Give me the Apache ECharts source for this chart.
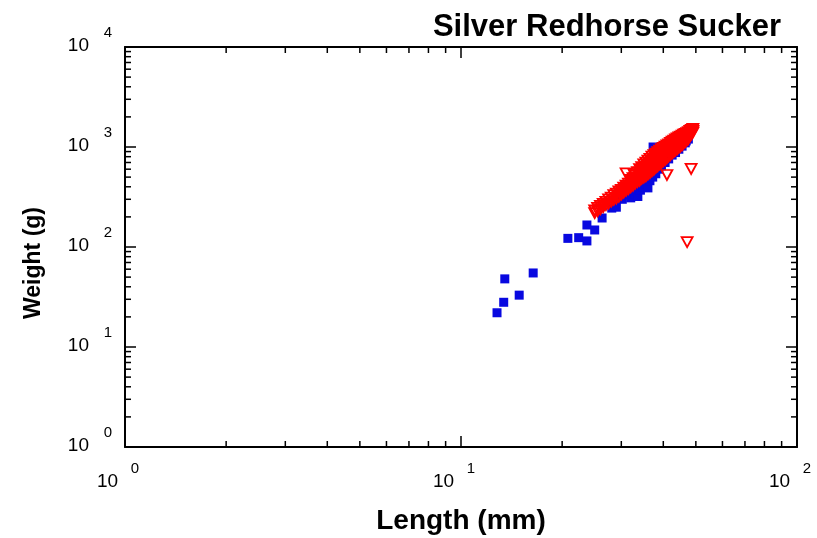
<!DOCTYPE html>
<html><head><meta charset="utf-8">
<script src="https://cdn.jsdelivr.net/npm/echarts@6/dist/echarts.min.js"></script>
<style>html,body{margin:0;padding:0;background:#fff}#c{width:817px;height:538px}</style>
</head><body><div id="c"></div>
<script>
const chartTitle = 'Silver Redhorse Sucker';
const xName = 'Length (mm)';
const yName = 'Weight (g)';
// [length (mm), weight (g)]
const blueData = [
  [12.8,22],[13.4,28],[13.5,48],[14.9,33],[16.4,55],[20.8,122],[22.4,124],[23.7,115],
  [23.7,166],[25.0,148],[26.3,195],[28.1,245],[28.8,280],[29.0,250],
  [29.5,320],[30.2,300],[30.8,350],[31.5,330],[32.0,310],[32.5,360],[33.0,340],[33.6,320],
  [34.2,370],[34.8,400],[35.5,430],[36.0,390],[36.5,460],[37.2,500],[38.0,540],[38.8,600],
  [39.5,650],[40.5,700],[41.5,760],[42.5,830],[43.5,880],[44.5,950],[45.5,1020],[46.5,1100],
  [47.5,1200],[37.3,1000],[46.8,1150]
];
const redData = [
  [25.0,218],[25.0,232],[25.5,228],[25.5,246],[26.0,238],[26.0,258],[26.5,250],[26.5,270],
  [27.0,262],[27.0,282],[27.5,272],[27.5,300],[28.0,285],[28.0,312],[28.5,296],[28.5,330],
  [29.0,305],[29.0,342],[29.5,318],[29.5,360],[30.0,335],[30.0,372],[30.0,355],
  [30.5,350],[30.5,392],[30.5,370],[31.0,365],[31.0,410],[31.0,388],[31.0,545],
  [31.5,380],[31.5,430],[31.5,405],[32.0,395],[32.0,470],[32.0,430],[32.7,537],
  [32.5,410],[32.5,488],[32.5,450],[33.0,430],[33.0,520],[33.0,470],
  [33.5,445],[33.5,560],[33.5,500],[34.0,460],[34.0,600],[34.0,520],[34.0,555],
  [34.5,480],[34.5,630],[34.5,540],[34.5,580],[35.0,495],[35.0,670],[35.0,560],[35.0,610],
  [35.5,510],[35.5,700],[35.5,590],[35.5,640],[36.0,530],[36.0,730],[36.0,610],[36.0,670],
  [36.5,550],[36.5,760],[36.5,640],[36.5,700],[37.0,570],[37.0,800],[37.0,660],[37.0,730],
  [37.5,590],[37.5,830],[37.5,690],[37.5,760],[38.0,620],[38.0,860],[38.0,720],[38.0,790],
  [38.5,640],[38.5,890],[38.5,750],[38.5,820],[39.0,670],[39.0,920],[39.0,780],[39.0,850],
  [39.5,690],[39.5,950],[39.5,810],[39.5,880],[40.0,720],[40.0,980],[40.0,840],[40.0,910],
  [40.5,740],[40.5,1010],[40.5,870],[40.5,940],[41.0,770],[41.0,1040],[41.0,900],[41.0,970],[41.0,525],
  [41.5,800],[41.5,1060],[41.5,930],[41.5,1000],[42.0,830],[42.0,1100],[42.0,960],[42.0,1030],
  [42.5,860],[42.5,1130],[42.5,990],[42.5,1060],[43.0,890],[43.0,1160],[43.0,1020],[43.0,1090],
  [43.5,920],[43.5,1190],[43.5,1050],[43.5,1120],[44.0,950],[44.0,1220],[44.0,1080],[44.0,1150],
  [44.5,980],[44.5,1250],[44.5,1110],[44.5,1180],[45.0,1010],[45.0,1270],[45.0,1140],[45.0,1210],
  [45.5,1040],[45.5,1300],[45.5,1170],[45.5,1240],[46.0,1080],[46.0,1330],[46.0,1200],[46.0,1270],
  [46.5,1120],[46.5,1350],[46.5,1240],[46.5,1300],[47.0,1160],[47.0,1380],[47.0,1270],[47.0,1330],[47.1,112],
  [47.5,1200],[47.5,1410],[47.5,1310],[47.5,1360],[48.0,1280],[48.0,1450],[48.0,1360],
  [48.5,1330],[48.5,1480],[48.5,1410],[48.4,603],[49.0,1390],[49.0,1520],[49.0,1450]
];
const xRange = [1, 100];
const yRange = [1, 10000];
const minorMultipliers = [2,3,4,5,6,7,8,9];
const xDecades = [1, 10];
const yDecades = [1, 10, 100, 1000];

const FONT = "'Liberation Sans', Arial, Helvetica, sans-serif";
const xMinor = [], yMinor = [];
xDecades.forEach(d => minorMultipliers.forEach(m => xMinor.push([d*m, yRange[0]])));
yDecades.forEach(d => minorMultipliers.forEach(m => yMinor.push([xRange[0], d*m])));

const expOf = v => Math.round(Math.log10(v));
const xRich = {
  e: {fontSize: 15, lineHeight: 13, padding: [0,0,0,20], fontFamily: FONT, color: '#000'},
  b: {fontSize: 19, lineHeight: 13, padding: [0,35,0,0], fontFamily: FONT, color: '#000'}
};
const yRich = {
  e: {fontSize: 15, lineHeight: 13, fontFamily: FONT, color: '#000'},
  b: {fontSize: 19, lineHeight: 13, padding: [0,23,0,0], fontFamily: FONT, color: '#000'}
};
const labelFmt = v => '{e|' + expOf(v) + '}\n{b|10}';
const axisLine = {show: true, onZero: false, lineStyle: {color: '#000', width: 2}};
const majorTick = {show: true, inside: true, length: 11, lineStyle: {color: '#000', width: 1.5}};
const MINOR = 6;

const chart = echarts.init(document.getElementById('c'), null, {renderer: 'canvas'});
chart.setOption({
  animation: false,
  backgroundColor: '#fff',
  title: {text: chartTitle, right: 31, top: 7,
    textStyle: {fontFamily: FONT, fontSize: 31, fontWeight: 'bold', color: '#000'}},
  grid: {left: 125, right: 20, top: 47, bottom: 91, outerBoundsMode: 'none', containLabel: false},
  xAxis: [
    {type: 'log', logBase: 10, min: xRange[0], max: xRange[1], position: 'bottom',
     axisLine, axisTick: majorTick, splitLine: {show: false},
     axisLabel: {formatter: labelFmt, rich: xRich, margin: 15},
     name: xName, nameLocation: 'middle', nameGap: 60,
     nameTextStyle: {fontFamily: FONT, fontSize: 28, fontWeight: 'bold', color: '#000'}},
    {type: 'log', logBase: 10, min: xRange[0], max: xRange[1], position: 'top',
     axisLine, axisTick: majorTick, splitLine: {show: false}, axisLabel: {show: false}}
  ],
  yAxis: [
    {type: 'log', logBase: 10, min: yRange[0], max: yRange[1], position: 'left',
     axisLine, axisTick: majorTick, splitLine: {show: false},
     axisLabel: {formatter: labelFmt, rich: yRich, margin: 13, padding: [0,0,15,0]},
     name: yName, nameLocation: 'middle', nameGap: 80,
     nameTextStyle: {fontFamily: FONT, fontSize: 23, fontWeight: 'bold', color: '#000', padding: [0,32,0,0]}},
    {type: 'log', logBase: 10, min: yRange[0], max: yRange[1], position: 'right',
     axisLine, axisTick: majorTick, splitLine: {show: false}, axisLabel: {show: false}}
  ],
  series: [
    {type: 'custom', xAxisIndex: 0, yAxisIndex: 0, silent: true, data: xMinor,
     renderItem: (params, api) => {
       const v = api.value(0);
       const b = api.coord([v, yRange[0]]), t = api.coord([v, yRange[1]]);
       const st = {stroke: '#000', lineWidth: 1.5};
       return {type: 'group', children: [
         {type: 'line', shape: {x1: b[0], y1: b[1], x2: b[0], y2: b[1]-MINOR}, style: st},
         {type: 'line', shape: {x1: t[0], y1: t[1], x2: t[0], y2: t[1]+MINOR}, style: st}
       ]};
     }},
    {type: 'custom', xAxisIndex: 0, yAxisIndex: 0, silent: true, data: yMinor,
     renderItem: (params, api) => {
       const v = api.value(1);
       const l = api.coord([xRange[0], v]), r = api.coord([xRange[1], v]);
       const st = {stroke: '#000', lineWidth: 1.5};
       return {type: 'group', children: [
         {type: 'line', shape: {x1: l[0], y1: l[1], x2: l[0]+MINOR, y2: l[1]}, style: st},
         {type: 'line', shape: {x1: r[0], y1: r[1], x2: r[0]-MINOR, y2: r[1]}, style: st}
       ]};
     }},
    {type: 'scatter', name: 'blue', data: blueData, symbol: 'rect', symbolSize: 9,
     itemStyle: {color: '#0808e0', opacity: 1}},
    {type: 'scatter', name: 'red', data: redData, symbol: 'triangle', symbolRotate: 180,
     symbolSize: [11, 10],
     itemStyle: {color: 'rgba(255,255,255,0)', borderColor: '#ff0000', borderWidth: 1.8, opacity: 1}}
  ]
});
</script></body></html>
